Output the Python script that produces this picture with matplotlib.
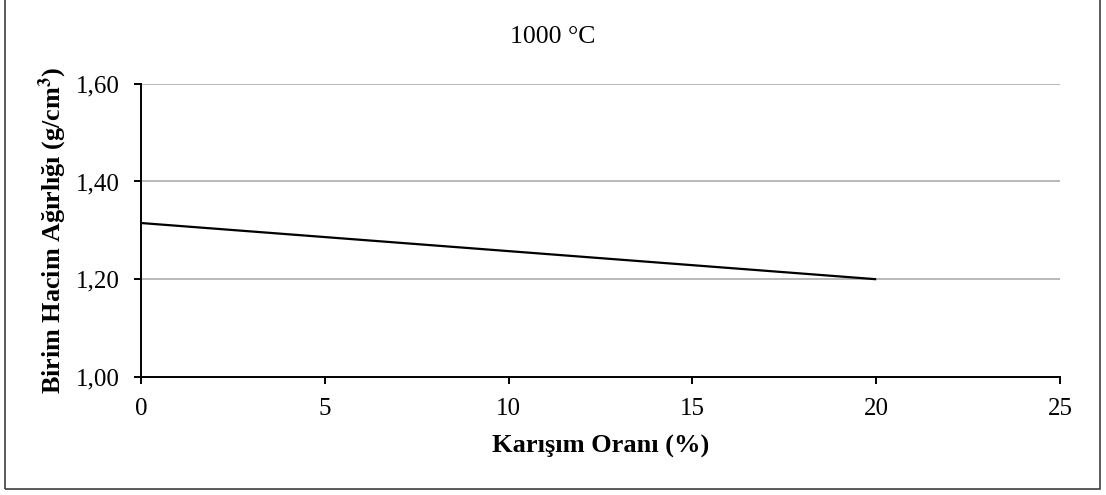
import matplotlib
matplotlib.use("Agg")
import matplotlib.pyplot as plt
from matplotlib.patches import Rectangle
from matplotlib.ticker import FuncFormatter

# Mixing ratio (%) and unit volume weight (g/cm3) at 1000 °C
karisim_orani = [0, 20]
birim_hacim_agirligi = [1.315, 1.20]

x_ticks = [0, 5, 10, 15, 20, 25]
y_ticks = [1.00, 1.20, 1.40, 1.60]

plt.rcParams["font.family"] = ["Liberation Serif", "DejaVu Serif"]
plt.rcParams["mathtext.fontset"] = "stix"

fig = plt.figure(figsize=(11.06, 4.95), dpi=100)
ax = fig.add_axes([0.1275, 0.2384, 0.8309, 0.5925])

ax.plot(karisim_orani, birim_hacim_agirligi, color="black", lw=1.6,
        solid_capstyle="butt", zorder=3)

ax.set_xlim(0, 25)
ax.set_ylim(1.00, 1.60)
ax.set_xticks(x_ticks)
ax.set_yticks(y_ticks)
ax.yaxis.set_major_formatter(FuncFormatter(lambda v, p: f"{v:.2f}".replace(".", ",")))
ax.xaxis.set_major_formatter(FuncFormatter(lambda v, p: f"{v:g}"))

ax.grid(axis="y", color="#b3b3b3", lw=1.3, zorder=0)
ax.set_axisbelow(True)
for side in ("top", "right"):
    ax.spines[side].set_visible(False)
for side in ("left", "bottom"):
    ax.spines[side].set_linewidth(1.4)
    ax.spines[side].set_color("black")

ax.tick_params(axis="both", direction="out", length=5, width=1.4,
               labelsize=18, color="black")
ax.tick_params(axis="y", pad=10)
ax.tick_params(axis="x", pad=10)

ax.set_xlabel("Karışım Oranı (%)", fontsize=19, fontweight="bold", labelpad=11)
ax.set_ylabel(r"Birim Hacim Ağırlığı (g/cm$^{\mathbf{3}}$)", fontsize=18.8,
              fontweight="bold", labelpad=5)

fig.text(0.5, 1 - 37 / 495, "1000 °C", ha="center", va="center", fontsize=18.5)

# Frame around the whole chart (top edge runs off the canvas)
fig.patches.append(Rectangle((5 / 1106, 1 - 489 / 495), 1095 / 1106, 500 / 495,
                             transform=fig.transFigure, fill=False,
                             edgecolor="#404040", lw=1.2))

fig.savefig("out.png", dpi=100)
